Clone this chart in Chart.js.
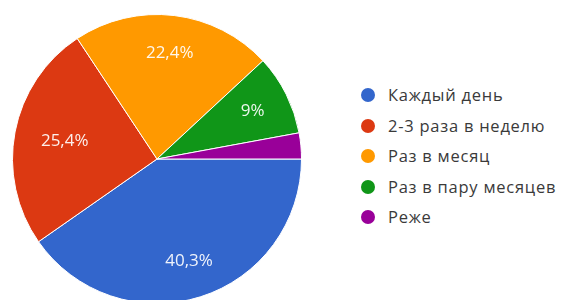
<!DOCTYPE html>
<html>
<head>
<meta charset="utf-8">
<script src="https://cdn.jsdelivr.net/npm/chart.js@4.4.1/dist/chart.umd.min.js"></script>
<style>
  html, body { margin: 0; padding: 0; background: #fff; overflow: hidden; width: 566px; height: 300px; }
  #pieBox { position: absolute; left: 0; top: 0; width: 314px; height: 318px; }
  #legend { position: absolute; left: 361px; top: 85px; font-family: "Open Sans", Arial, sans-serif; font-size: 16.5px; color: #3a3a3a; }
  #legend .item { height: 30.5px; line-height: 20px; position: relative; white-space: nowrap; }
  #legend .dot { position: absolute; left: 0; top: 3px; width: 14px; height: 14px; border-radius: 50%; }
  #legend .txt { position: absolute; left: 27px; top: 0; letter-spacing: 0.75px; }
</style>
</head>
<body>
<div id="pieBox"><canvas id="pieChart"></canvas></div>
<div id="legend"></div>
<script>
// Data
const labels = ["Каждый день", "2-3 раза в неделю", "Раз в месяц", "Раз в пару месяцев", "Реже"];
const values = [40.3, 25.4, 22.4, 9, 2.9];
const shownLabels = ["40,3%", "25,4%", "22,4%", "9%", ""];
const colors = ["#3366cc", "#dc3912", "#ff9900", "#109618", "#990099"];

// white percent labels inside slices
const sliceLabels = {
  id: "sliceLabels",
  afterDatasetsDraw(chart) {
    const ctx = chart.ctx;
    const meta = chart.getDatasetMeta(0);
    ctx.save();
    ctx.font = "17px 'Open Sans', Arial, sans-serif";
    ctx.fillStyle = "rgba(255,255,255,0.92)";
    ctx.textAlign = "center";
    ctx.textBaseline = "middle";
    meta.data.forEach((arc, i) => {
      if (!shownLabels[i]) return;
      const mid = (arc.startAngle + arc.endAngle) / 2;
      const r = arc.outerRadius * (i === 1 ? 0.65 : 0.74);
      ctx.fillText(shownLabels[i], arc.x + Math.cos(mid) * r, arc.y + Math.sin(mid) * r);
    });
    ctx.restore();
  }
};

new Chart(document.getElementById("pieChart"), {
  type: "pie",
  data: {
    labels: labels,
    datasets: [{
      data: values,
      backgroundColor: colors,
      borderColor: "#ffffff",
      borderWidth: 1,
    }],
  },
  options: {
    responsive: true,
    maintainAspectRatio: false,
    animation: false,
    rotation: 90,
    layout: { padding: { left: 12, right: 12, top: 14, bottom: 14 } },
    plugins: {
      legend: { display: false },
      tooltip: { enabled: false },
    },
  },
  plugins: [sliceLabels],
});

// legend
const legend = document.getElementById("legend");
labels.forEach((name, i) => {
  const row = document.createElement("div");
  row.className = "item";
  row.innerHTML = '<span class="dot" style="background:' + colors[i] + '"></span><span class="txt">' + name + '</span>';
  legend.appendChild(row);
});
</script>
</body>
</html>
